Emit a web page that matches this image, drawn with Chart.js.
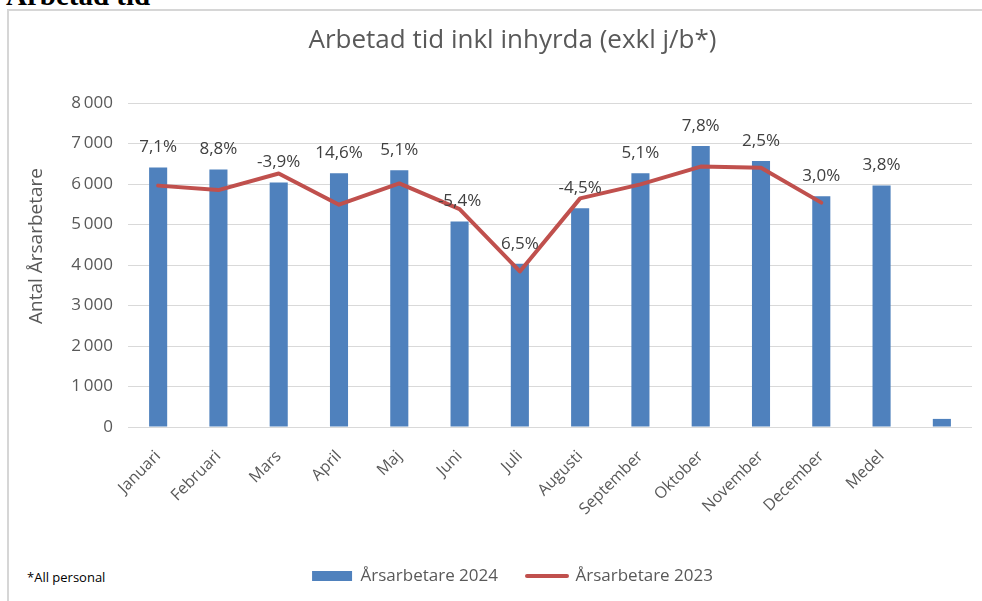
<!DOCTYPE html>
<html>
<head>
<meta charset="utf-8">
<script src="https://cdn.jsdelivr.net/npm/chart.js@4"></script>
<style>
  html, body { margin: 0; padding: 0; background: #ffffff; }
  body { width: 982px; height: 601px; position: relative; overflow: hidden; }
  #heading { position: absolute; left: 6px; top: -19px; font-family: "Liberation Serif", serif; font-weight: bold; font-size: 29px; line-height: 1; color: #000; margin: 0; white-space: nowrap; }
  #frame { position: absolute; left: 7px; top: 9px; width: 990px; height: 600px; border-left: 2px solid #d6d6d6; border-top: 2px solid #d6d6d6; }
  #note { position: absolute; left: 27px; top: 568px; font-family: "Open Sans", sans-serif; font-size: 13px; color: #000; line-height: 18px; }
  #wrap { position: absolute; left: 0; top: 0; width: 982px; height: 601px; }
</style>
</head>
<body>
<div id="heading">Arbetad tid</div>
<div id="frame"></div>
<div id="note">*All personal</div>
<div id="wrap"><canvas id="c" width="982" height="601"></canvas></div>
<script>
// ---- data ----
const categories = ['Januari', 'Februari', 'Mars', 'April', 'Maj', 'Juni', 'Juli', 'Augusti', 'September', 'Oktober', 'November', 'December', 'Medel', ''];
const values2024 = [6410, 6360, 6040, 6265, 6340, 5075, 4030, 5400, 6265, 6940, 6570, 5700, 5960, 200];
const values2023 = [5960, 5850, 6260, 5490, 6015, 5380, 3840, 5645, 5990, 6430, 6400, 5540, null, null];
const changeLabels = ['7,1%', '8,8%', '-3,9%', '14,6%', '5,1%', '-5,4%', '6,5%', '-4,5%', '5,1%', '7,8%', '2,5%', '3,0%', '3,8%', ''];
const seriesNames = ['Årsarbetare 2024', 'Årsarbetare 2023'];
const chartTitle = 'Arbetad tid inkl inhyrda (exkl j/b*)';
const yAxisTitle = 'Antal Årsarbetare';

const FONT = '"Open Sans", "Noto Sans", sans-serif';
const AXIS_COLOR = '#595959';

const dataLabelPlugin = {
  id: 'dataLabels',
  afterDatasetsDraw(chart) {
    const ctx = chart.ctx;
    const meta = chart.getDatasetMeta(1); // bar dataset
    ctx.save();
    ctx.font = '17px ' + FONT;
    ctx.fillStyle = '#404040';
    ctx.textAlign = 'center';
    ctx.textBaseline = 'middle';
    meta.data.forEach((bar, i) => {
      const t = changeLabels[i];
      if (t) ctx.fillText(t, bar.x, bar.y - 20);
    });
    ctx.restore();
  }
};

const yTitlePlugin = {
  id: 'yTitle',
  afterDraw(chart) {
    const ctx = chart.ctx;
    ctx.save();
    ctx.font = '19px ' + FONT;
    ctx.fillStyle = AXIS_COLOR;
    ctx.textAlign = 'center';
    ctx.textBaseline = 'middle';
    ctx.translate(37, 246);
    ctx.rotate(-Math.PI / 2);
    ctx.fillText(yAxisTitle, 0, 0);
    ctx.restore();
  }
};

new Chart(document.getElementById('c'), {
  data: {
    labels: categories,
    datasets: [
      {
        type: 'line',
        label: seriesNames[1],
        data: values2023,
        borderColor: '#c0504d',
        backgroundColor: '#c0504d',
        borderWidth: 4,
        pointRadius: 0,
        pointHoverRadius: 0,
        pointBorderWidth: 4,
        borderCapStyle: 'round',
        borderJoinStyle: 'round',
        tension: 0,
        spanGaps: false,
        order: 0
      },
      {
        type: 'bar',
        label: seriesNames[0],
        data: values2024,
        backgroundColor: '#4f81bd',
        borderWidth: 0,
        categoryPercentage: 1,
        barPercentage: 0.3,
        order: 1
      }
    ]
  },
  options: {
    responsive: false,
    animation: false,
    events: [],
    layout: { padding: { left: 53, right: 10, top: 0, bottom: 6.5 } },
    scales: {
      x: {
        grid: { display: false, drawTicks: false },
        border: { display: false },
        ticks: {
          autoSkip: false,
          maxRotation: 45,
          minRotation: 45,
          padding: 20,
          color: AXIS_COLOR,
          font: { family: FONT, size: 16 }
        },
        afterFit(scale) { scale.height = 111.5; }
      },
      y: {
        min: 0,
        max: 8000,
        grid: { color: '#d9d9d9', lineWidth: 1, drawTicks: false },
        border: { display: false },
        ticks: {
          stepSize: 1000,
          padding: 15,
          color: AXIS_COLOR,
          font: { family: FONT, size: 17 },
          callback: (v) => String(v).replace(/\B(?=(\d{3})+(?!\d))/g, '\u2009')
        },
        afterFit(scale) { scale.width = 75; }
      }
    },
    plugins: {
      title: {
        display: true,
        text: chartTitle,
        color: AXIS_COLOR,
        font: { family: FONT, size: 26, weight: 'normal', lineHeight: 1.2 },
        padding: { top: 25.4, bottom: 46.4 }
      },
      legend: {
        position: 'bottom',
        reverse: true,
        labels: {
          usePointStyle: true,
          pointStyleWidth: 40,
          boxHeight: 10,
          padding: 29,
          color: AXIS_COLOR,
          font: { family: FONT, size: 17 },
          generateLabels(chart) {
            const items = Chart.defaults.plugins.legend.labels.generateLabels(chart);
            items.forEach(it => {
              if (it.datasetIndex === 1) { it.pointStyle = 'rect'; it.lineWidth = 0; it.fillStyle = '#4f81bd'; }
              else { it.pointStyle = 'line'; it.lineWidth = 4; it.strokeStyle = '#c0504d'; it.lineCap = 'round'; }
            });
            return items;
          }
        }
      },
      tooltip: { enabled: false }
    }
  },
  plugins: [dataLabelPlugin, yTitlePlugin]
});
</script>
</body>
</html>
